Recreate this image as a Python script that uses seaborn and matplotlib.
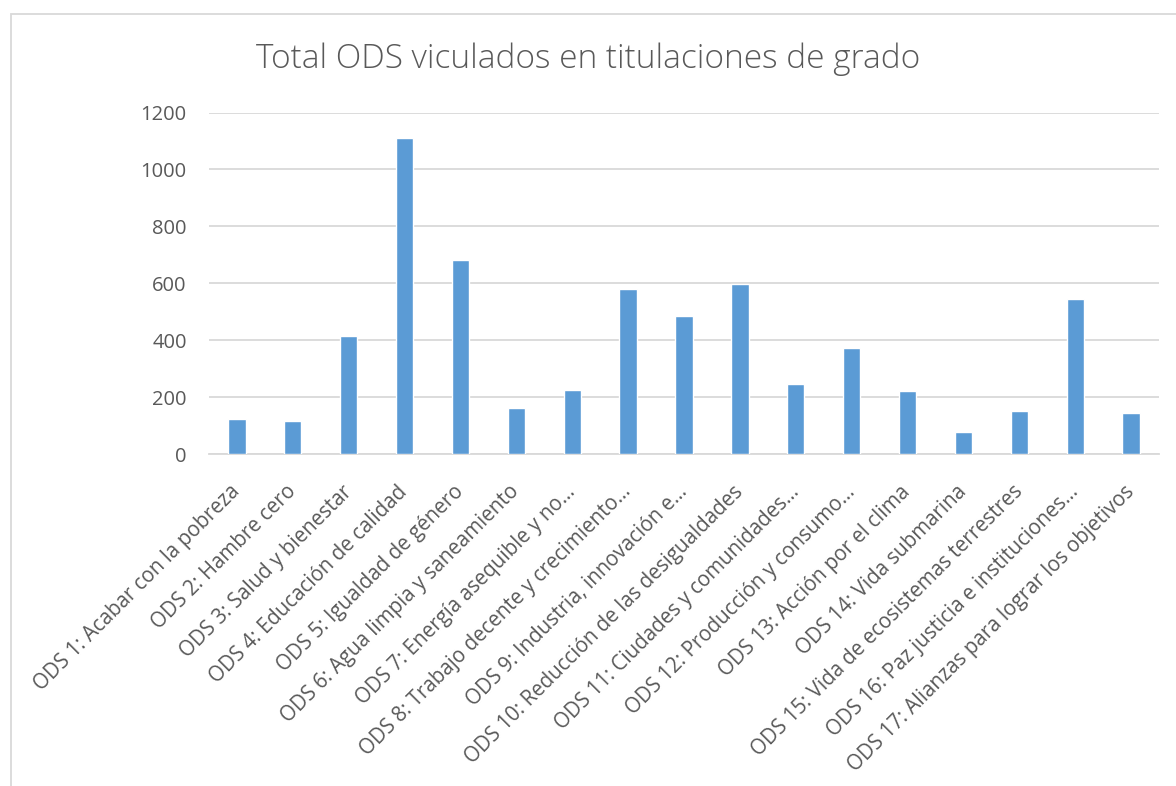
import matplotlib
matplotlib.use("Agg")
import matplotlib.pyplot as plt
import seaborn as sns
import pandas as pd
from matplotlib.patches import Rectangle

# data
categorias = [
    "ODS 1: Acabar con la pobreza",
    "ODS 2: Hambre cero",
    "ODS 3: Salud y bienestar",
    "ODS 4: Educación de calidad",
    "ODS 5: Igualdad de género",
    "ODS 6: Agua limpia y saneamiento",
    "ODS 7: Energía asequible y no…",
    "ODS 8: Trabajo decente y crecimiento…",
    "ODS 9: Industria, innovación e…",
    "ODS 10: Reducción de las desigualdades",
    "ODS 11: Ciudades y comunidades…",
    "ODS 12: Producción y consumo…",
    "ODS 13: Acción por el clima",
    "ODS 14: Vida submarina",
    "ODS 15: Vida de ecosistemas terrestres",
    "ODS 16: Paz justicia e instituciones…",
    "ODS 17: Alianzas para lograr los objetivos",
]
valores = [123, 117, 414, 1112, 682, 161, 226, 581, 484, 599, 246, 373, 223, 78, 150, 545, 145]
yticks = [0, 200, 400, 600, 800, 1000, 1200]

df = pd.DataFrame({"ods": categorias, "total": valores})

sns.set_theme(style="white")
plt.rcParams["font.family"] = ["Open Sans", "DejaVu Sans"]

W, H = 1176, 786
fig = plt.figure(figsize=(W / 100, H / 100), dpi=100)
ax = fig.add_axes([209 / W, 1 - 454 / H, (1159 - 209) / W, (454 - 112.5) / H])

sns.barplot(data=df, x="ods", y="total", color="#5B9BD5", width=0.31,
            saturation=1, ax=ax, zorder=3)

ax.set_ylim(0, 1200)
ax.set_yticks(yticks)
ax.set_xlim(-0.5, len(categorias) - 0.5)
ax.grid(axis="y", color="#D9D9D9", linewidth=1.3, zorder=0)
for s in ["top", "right", "left"]:
    ax.spines[s].set_visible(False)
ax.spines["bottom"].set_color("#D9D9D9")
ax.spines["bottom"].set_linewidth(1.3)
ax.tick_params(axis="y", length=0, colors="#595959", labelsize=14.5, pad=16)
ax.tick_params(axis="x", length=0, colors="#595959", labelsize=14.8, pad=25)
plt.setp(ax.get_xticklabels(), rotation=45, ha="right", va="center",
         rotation_mode="anchor")
ax.set_xlabel("")
ax.set_ylabel("")

fig.text(0.5, 1 - 59 / H, "Total ODS viculados en titulaciones de grado",
         ha="center", va="center", fontsize=24, fontweight="light",
         color="#595959")

# chart border
fig.patches.append(Rectangle((11 / W, -0.01), 1.05, 1 - 14 / H + 0.01,
                             transform=fig.transFigure, fill=False,
                             edgecolor="#D9D9D9", linewidth=1.3))

fig.savefig("out.png", dpi=100, facecolor="white")
